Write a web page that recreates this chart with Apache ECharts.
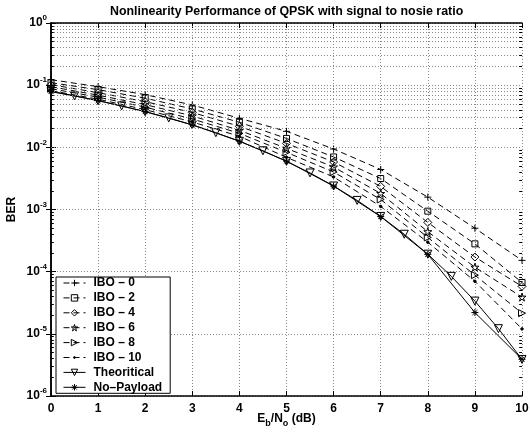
<!DOCTYPE html>
<html>
<head>
<meta charset="utf-8">
<script src="https://cdn.jsdelivr.net/npm/echarts@6/dist/echarts.min.js"></script>
<style>
  html, body { margin: 0; padding: 0; background: #fff; }
  #chart { width: 530px; height: 435px; }
</style>
</head>
<body>
<div id="chart"></div>
<script>
const FONT = 'Liberation Sans, Arial, sans-serif'

// Eb/No (dB) grid of the simulated curves
const EBNO = [0, 1, 2, 3, 4, 5, 6, 7, 8, 9, 10]
// grid of the theoretical curve
const EBNO_THEORY = [0, 0.5, 1, 1.5, 2, 2.5, 3, 3.5, 4, 4.5, 5, 5.5, 6, 6.5, 7, 7.5, 8, 8.5, 9, 9.5, 10]

const IBO_0 = [0.1225, 0.0945, 0.0704, 0.048, 0.0293, 0.0181, 0.0094, 4.4e-3, 1.58e-3, 5.0e-4, 1.52e-4]
const IBO_2 = [0.1097, 0.0846, 0.0618, 0.0414, 0.0253, 0.0139, 0.0070, 3.15e-3, 9.4e-4, 2.8e-4, 6.7e-5]
const IBO_4 = [0.1019, 0.0757, 0.0543, 0.0364, 0.0218, 0.01158, 0.00581, 2.35e-3, 6.2e-4, 1.72e-4, 5.8e-5]
const IBO_6 = [0.0946, 0.069, 0.0486, 0.032, 0.0188, 0.00963, 0.00483, 1.81e-3, 4.4e-4, 1.18e-4, 3.9e-5]
const IBO_8 = [0.0878, 0.0641, 0.0443, 0.0286, 0.0168, 0.00831, 0.00401, 1.45e-3, 3.55e-4, 8.8e-5, 2.15e-5]
const IBO_10 = [0.0816, 0.0595, 0.0404, 0.0256, 0.01505, 0.0069, 0.00334, 1.12e-3, 2.98e-4, 7.0e-5, 1.2e-5]
const THEORY = [0.0786, 0.0671, 0.0563, 0.0464, 0.0375, 0.0297, 0.0229, 0.0172, 0.0125, 0.0088, 0.00595,
  0.00387, 0.00239, 0.0014, 7.73e-4, 4.0e-4, 1.91e-4, 8.4e-5, 3.36e-5, 1.21e-5, 3.87e-6]
const NO_PAYLOAD = [0.080, 0.0565, 0.0375, 0.0230, 0.0126, 0.0060, 0.00238, 7.7e-4, 1.9e-4, 2.2e-5, 3.9e-6]

const LEGEND = ['IBO – 0', 'IBO – 2', 'IBO – 4', 'IBO – 6', 'IBO – 8', 'IBO – 10', 'Theoritical', 'No–Payload']

// marker shapes (matlab style)
const PLUS = 'path://M5,0L5,10M0,5L10,5'
const STAR = 'path://M5,0L5,10M0,5L10,5M1.5,1.5L8.5,8.5M8.5,1.5L1.5,8.5'
const PENTA = 'path://M5,0L6.12,3.45L9.76,3.45L6.82,5.59L7.94,9.05L5,6.91L2.06,9.05L3.18,5.59L0.24,3.45L3.88,3.45Z'
const DOT = 'path://M0,0M10,10M5,3.6A1.4,1.4,0,1,1,5,6.4A1.4,1.4,0,1,1,5,3.6Z'

// log grid positions between the decades
const minorVals = []
for (let k = -6; k < 0; k++) {
  for (let m = 2; m <= 9; m++) minorVals.push(m * Math.pow(10, k))
}

const gridLine = { color: '#888', width: 1, type: [1, 2] }
const NOFILL = 'rgba(0,0,0,0)'

const myChart = echarts.init(document.getElementById('chart'))

const lineSeries = (name, xs, ys, symbol, opts = {}) => ({
  type: 'line',
  name,
  data: xs.map((x, i) => [x, ys[i]]),
  symbol,
  symbolSize: opts.size || 7,
  symbolRotate: opts.rotate || 0,
  z: 3,
  lineStyle: { color: '#000', width: 1, type: opts.dashed ? [6, 4] : 'solid' },
  itemStyle: { color: opts.fill || NOFILL, borderColor: '#000', borderWidth: 1 },
  emphasis: { disabled: true },
})

const legendItem = (name, fill) => ({
  name,
  itemStyle: { color: fill || NOFILL, borderColor: '#000', borderWidth: 1 },
})

const options = {
  animation: false,
  backgroundColor: '#fff',
  title: {
    text: 'Nonlinearity Performance of QPSK with signal to nosie ratio',
    left: 105,
    top: 1,
    textStyle: { fontFamily: FONT, fontSize: 12.4, fontWeight: 'bold', color: '#000' },
  },
  grid: { left: 51, right: 8, top: 23, bottom: 39, containLabel: false, outerBoundsMode: 'none' },
  legend: {
    data: LEGEND.map((n, i) => legendItem(n, i === 5 ? '#000' : null)),
    orient: 'vertical',
    left: 56,
    top: 277,
    itemWidth: 22,
    itemHeight: 8,
    itemGap: 2.9,
    padding: [0, 8, 0, 7],
    backgroundColor: '#fff',
    borderColor: '#000',
    borderWidth: 1,
    lineStyle: { width: 1 },
    textStyle: { fontFamily: FONT, fontSize: 12, fontWeight: 'bold', color: '#000', padding: [0, 0, 0, 3] },
  },
  xAxis: [
    {
      type: 'value',
      min: 0,
      max: 10,
      interval: 1,
      name: '{m|E}{s|b}{m|/N}{s|o}{m| (dB)}',
      nameLocation: 'middle',
      nameGap: 17,
      nameMoveOverlap: false,
      nameTextStyle: {
        rich: {
          m: { fontFamily: FONT, fontSize: 12, fontWeight: 'bold', color: '#000', lineHeight: 15, verticalAlign: 'top' },
          s: { fontFamily: FONT, fontSize: 9, fontWeight: 'bold', color: '#000', lineHeight: 9, verticalAlign: 'bottom' },
        },
      },
      axisLine: { lineStyle: { color: '#000', width: 1.5 } },
      axisTick: { inside: true, length: 5, lineStyle: { color: '#000' } },
      axisLabel: { margin: 7, fontFamily: FONT, fontSize: 12, fontWeight: 'bold', color: '#000' },
      splitLine: { show: true, lineStyle: gridLine },
    },
    {
      type: 'value',
      position: 'top',
      min: 0,
      max: 10,
      interval: 1,
      axisLine: { lineStyle: { color: '#000', width: 1.5 } },
      axisTick: { inside: true, length: 5, lineStyle: { color: '#000' } },
      axisLabel: { show: false },
      splitLine: { show: false },
    },
  ],
  yAxis: [
    {
      type: 'log',
      logBase: 10,
      min: 1e-6,
      max: 1,
      splitNumber: 6,
      name: 'BER',
      nameLocation: 'middle',
      nameGap: 33,
      nameMoveOverlap: false,
      nameTextStyle: { fontFamily: FONT, fontSize: 12, fontWeight: 'bold', color: '#000' },
      axisLine: { show: true, lineStyle: { color: '#000', width: 1.5 } },
      axisTick: { inside: true, length: 5, lineStyle: { color: '#000' } },
      axisLabel: {
        margin: 4,
        formatter: (v) => '{b|10}{s|' + Math.round(Math.log10(v)) + '}',
        rich: {
          b: { fontFamily: FONT, fontSize: 12, fontWeight: 'bold', color: '#000', lineHeight: 18 },
          s: { fontFamily: FONT, fontSize: 8, fontWeight: 'bold', color: '#000', lineHeight: 8, verticalAlign: 'top' },
        },
      },
      splitLine: { show: true, lineStyle: gridLine },
    },
    {
      type: 'log',
      logBase: 10,
      position: 'right',
      min: 1e-6,
      max: 1,
      splitNumber: 6,
      axisLine: { show: true, lineStyle: { color: '#000', width: 1.5 } },
      axisTick: { inside: true, length: 5, lineStyle: { color: '#000' } },
      axisLabel: { show: false },
      splitLine: { show: false },
    },
  ],
  series: [
    {
      type: 'line',
      name: 'grid',
      data: [],
      z: 1,
      silent: true,
      markLine: {
        silent: true,
        symbol: 'none',
        animation: false,
        label: { show: false },
        emphasis: { disabled: true },
        lineStyle: gridLine,
        data: minorVals.map((v) => ({ yAxis: v })),
      },
    },
    {
      type: 'line',
      name: 'ticks',
      data: [],
      z: 2,
      silent: true,
      markLine: {
        silent: true,
        symbol: 'none',
        animation: false,
        label: { show: false },
        emphasis: { disabled: true },
        lineStyle: { color: '#000', width: 1, type: 'solid' },
        data: minorVals.map((v) => [{ coord: [0, v] }, { coord: [0.06, v] }])
          .concat(minorVals.map((v) => [{ coord: [9.94, v] }, { coord: [10, v] }])),
      },
    },
    lineSeries(LEGEND[0], EBNO, IBO_0, PLUS, { dashed: true }),
    lineSeries(LEGEND[1], EBNO, IBO_2, 'rect', { dashed: true, size: 6 }),
    lineSeries(LEGEND[2], EBNO, IBO_4, 'diamond', { dashed: true, size: 8 }),
    lineSeries(LEGEND[3], EBNO, IBO_6, PENTA, { dashed: true, size: 8 }),
    lineSeries(LEGEND[4], EBNO, IBO_8, 'triangle', { dashed: true, rotate: -90, size: 7 }),
    lineSeries(LEGEND[5], EBNO, IBO_10, DOT, { dashed: true, fill: '#000', size: 9 }),
    lineSeries(LEGEND[6], EBNO_THEORY, THEORY, 'triangle', { rotate: 180, size: 8 }),
    lineSeries(LEGEND[7], EBNO, NO_PAYLOAD, STAR, { size: 7 }),
  ],
}

myChart.setOption(options)
</script>
</body>
</html>
